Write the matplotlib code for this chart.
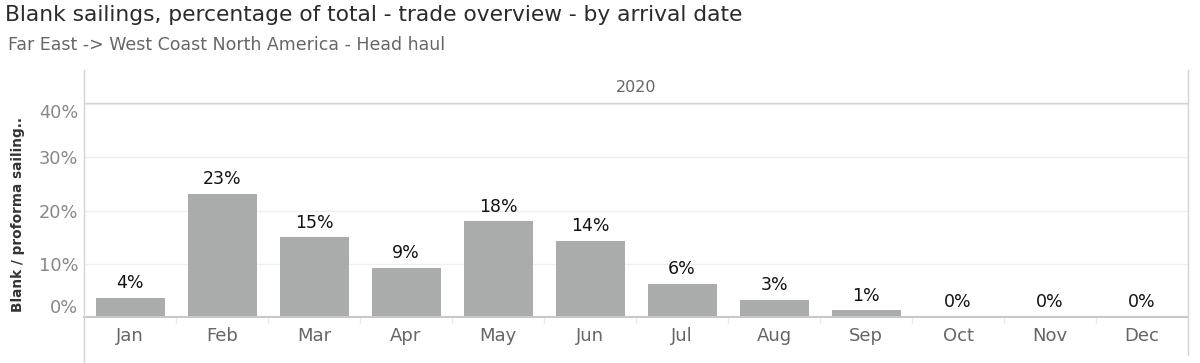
import matplotlib
matplotlib.use("Agg")
import matplotlib.pyplot as plt
from matplotlib.lines import Line2D

plt.rcParams['font.family'] = ['DejaVu Sans']

# === DATI ===
months = ["Jan", "Feb", "Mar", "Apr", "May", "Jun",
          "Jul", "Aug", "Sep", "Oct", "Nov", "Dec"]
blank_share = [3.6, 23.1, 15.0, 9.2, 18.0, 14.3, 6.2, 3.2, 1.3, 0.0, 0.0, 0.0]
bar_labels = ["4%", "23%", "15%", "9%", "18%", "14%", "6%", "3%", "1%", "0%", "0%", "0%"]
y_ticks = [0, 10, 20, 30, 40]
y_tick_labels = ["0%", "10%", "20%", "30%", "40%"]
year = "2020"

W, H = 1200, 363
fig = plt.figure(figsize=(W / 100, H / 100), dpi=100)

# area dati: x 84..1188, y 104..317 (pixel)
left, right, top, bottom = 84, 1188, 104, 317
ax = fig.add_axes([left / W, (H - bottom) / H, (right - left) / W, (bottom - top) / H])

x = range(len(months))
ax.bar(x, blank_share, width=0.75, color="#aaacac", zorder=2)
for xi, v, lab in zip(x, blank_share, bar_labels):
    ax.annotate(lab, (xi, v), xytext=(0, 4), textcoords="offset points",
                ha="center", va="bottom", fontsize=12.5, color="#111111")

ax.set_xlim(-0.5, len(months) - 0.5)
ax.set_ylim(0, 40)
ax.set_yticks(y_ticks)
ax.set_yticklabels(y_tick_labels, fontsize=12.8, color="#888888")
ax.set_xticks(list(x))
ax.set_xticklabels(months, fontsize=13, color="#666666")
ax.tick_params(axis="both", length=0)
ax.tick_params(axis="y", pad=4)
ax.tick_params(axis="x", pad=7)
lbls = ax.get_yticklabels()
lbls[0].set_va("bottom")
lbls[-1].set_va("top")

ax.grid(axis="y", color="#efefef", linewidth=1, zorder=0)
for s in ["top", "right", "left"]:
    ax.spines[s].set_visible(False)
ax.spines["bottom"].set_color("#c8c8c8")
ax.spines["bottom"].set_linewidth(1.5)

# separatori tra le colonne sotto l'asse
for b in range(1, len(months)):
    ax.plot([b - 0.5, b - 0.5], [0, -1.2], color="#ececec", lw=1, clip_on=False)

# linee della cornice (coordinate figura)
def fig_line(x0, y0, x1, y1, color="#d4d4d4", lw=1):
    fig.add_artist(Line2D([x0 / W, x1 / W], [1 - y0 / H, 1 - y1 / H], color=color, lw=lw))

fig_line(left, 70, left, H)
fig_line(right, 70, right, 355)
fig_line(left, 103, right, 103)

# intestazione anno
fig.text((left + right) / 2 / W, 1 - 87 / H, year, ha="center", va="center",
         fontsize=11.5, color="#666666")

# titolo e sottotitolo
fig.text(5 / W, 1 - 15 / H, "Blank sailings, percentage of total - trade overview - by arrival date",
         ha="left", va="center", fontsize=15.7, color="#2b2b2b")
fig.text(8 / W, 1 - 45 / H, "Far East -> West Coast North America - Head haul",
         ha="left", va="center", fontsize=12.5, color="#666666")

# etichetta asse y
fig.text(18 / W, 1 - 215 / H, "Blank / proforma sailing..", rotation=90,
         ha="center", va="center", fontsize=9.8, fontweight="bold", color="#333333")

fig.savefig("out.png", dpi=100)
